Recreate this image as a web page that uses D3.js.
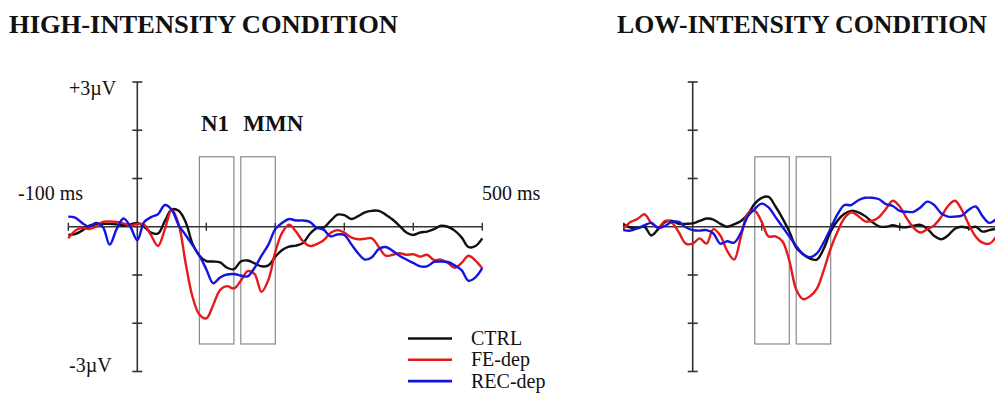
<!DOCTYPE html>
<meta charset="utf-8">
<style>
  body { margin: 0; background: #fff; }
  text { font-family: "Liberation Serif", "Times New Roman", serif; fill: #111; }
</style>
<svg width="995" height="394"></svg>
<script src="https://d3js.org/d3.v7.min.js"></script>
<script>

// time points (ms) of the averaged waveforms
var timesMs = [-100, -90, -80, -70, -60, -50, -40, -30, -20, -10,
    0, 10, 20, 30, 40, 50, 60, 70, 80, 90,
    100, 110, 120, 130, 140, 150, 160, 170, 180, 190,
    200, 210, 220, 230, 240, 250, 260, 270, 280, 290,
    300, 310, 320, 330, 340, 350, 360, 370, 380, 390,
    400, 410, 420, 430, 440, 450, 460, 470, 480, 490, 500];

// amplitudes in microvolts, high-intensity condition
var highCtrl = [-0.17, -0.15, -0.08, 0.02, 0.05, 0.06, 0.06, 0.05, 0.03, 0.05,
    0.08, 0.0, -0.12, -0.14, 0.12, 0.36, 0.33, 0.1, -0.35, -0.6,
    -0.71, -0.72, -0.74, -0.85, -0.88, -0.72, -0.7, -0.76, -0.82, -0.8,
    -0.62, -0.48, -0.41, -0.39, -0.34, -0.15, -0.03, -0.02, 0.12, 0.25,
    0.24, 0.16, 0.22, 0.3, 0.33, 0.33, 0.25, 0.15, 0.02, -0.12,
    -0.17, -0.12, -0.1, -0.05, 0.02, 0.0, -0.08, -0.22, -0.42, -0.4, -0.24];
var highFe = [-0.24, -0.08, -0.02, -0.05, 0.0, 0.1, 0.11, 0.1, 0.07, 0.02,
    0.06, 0.04, -0.18, -0.4, -0.05, 0.36, 0.05, -0.75, -1.45, -1.82,
    -1.9, -1.62, -1.31, -1.23, -1.28, -1.12, -0.92, -0.98, -1.35, -1.1,
    -0.52, -0.12, 0.04, -0.1, -0.3, -0.4, -0.36, -0.28, -0.13, -0.07,
    -0.12, -0.22, -0.26, -0.25, -0.24, -0.42, -0.6, -0.58, -0.55, -0.58,
    -0.57, -0.62, -0.58, -0.69, -0.68, -0.75, -0.85, -0.75, -0.6, -0.7, -0.86];
var highRec = [0.21, 0.19, 0.08, 0.0, 0.08, 0.0, -0.37, -0.05, 0.17, 0.0,
    -0.28, 0.1, 0.2, 0.26, 0.45, 0.35, 0.03, -0.17, -0.38, -0.6,
    -0.88, -1.17, -1.05, -0.99, -0.98, -1.01, -1.03, -0.85, -0.6, -0.37,
    -0.05, 0.08, 0.16, 0.13, 0.13, 0.1, -0.02, -0.06, -0.2, -0.16,
    -0.17, -0.36, -0.55, -0.68, -0.63, -0.46, -0.42, -0.5, -0.6, -0.68,
    -0.75, -0.82, -0.82, -0.73, -0.72, -0.73, -0.8, -0.9, -1.12, -1.05, -0.86];

// low-intensity condition (figure is cut at ~440 ms)
var lowCtrl = [0.05, -0.02, -0.03, 0.0, -0.18, -0.05, 0.1, 0.12, 0.06, 0.06,
    0.07, 0.12, 0.17, 0.15, 0.06, 0.0, 0.05, 0.12, 0.26, 0.48,
    0.6, 0.62, 0.42, 0.18, -0.1, -0.43, -0.57, -0.66, -0.68, -0.45,
    -0.1, 0.13, 0.27, 0.33, 0.3, 0.22, 0.1, 0.01, 0.0, 0.03,
    0.0, -0.01, 0.02, 0.04, -0.04, -0.19, -0.26, -0.18, -0.04, 0.0,
    -0.03, 0.0, -0.1, -0.07, -0.04];
var lowFe = [-0.03, 0.1, 0.16, 0.26, 0.08, -0.02, 0.12, 0.08, -0.12, -0.35,
    -0.35, -0.24, -0.35, -0.05, -0.18, -0.5, -0.68, -0.2, 0.28, 0.33,
    0.1, -0.2, -0.2, -0.3, -0.7, -1.3, -1.5, -1.44, -1.28, -0.9,
    -0.45, -0.1, 0.18, 0.3, 0.22, 0.11, 0.12, 0.2, 0.37, 0.54,
    0.42, 0.18, -0.02, -0.12, -0.05, 0.03, 0.2, 0.43, 0.54, 0.35,
    0.05, -0.2, -0.33, -0.35, -0.2];
var lowRec = [-0.07, -0.08, -0.03, 0.03, 0.08, -0.02, 0.02, 0.1, 0.1, -0.01,
    -0.07, -0.08, -0.07, -0.14, -0.35, -0.3, -0.33, -0.12, 0.22, 0.37,
    0.48, 0.4, 0.2, 0.0, -0.2, -0.4, -0.57, -0.63, -0.55, -0.32,
    -0.03, 0.26, 0.45, 0.45, 0.55, 0.6, 0.6, 0.57, 0.47, 0.43,
    0.33, 0.31, 0.31, 0.4, 0.52, 0.45, 0.28, 0.21, 0.21, 0.23,
    0.35, 0.42, 0.22, 0.08, 0.16];

var groupNames = ["CTRL", "FE-dep", "REC-dep"];
var groupColors = ["#111111", "#e41a1c", "#1414e0"];

// analysis windows (ms) and their vertical extent (µV)
var windowsMs = [[90, 140], [150, 200]];
var windowTop = 1.45, windowBottom = -2.43;

var xTicks = [-100, 100, 200, 300, 400, 500];
var yTicks = [-3, -2, -1, 1, 2, 3];

var svg = d3.select("svg");

var y = d3.scaleLinear().domain([-3, 3]).range([371.5, 82]);

function drawPanel(left, series, title, titleX, titleW, showLabels) {
    var x = d3.scaleLinear().domain([-100, 500]).range([left, left + 414]);
    var g = svg.append("g");

    g.append("text")
        .attr("x", titleX).attr("y", 33)
        .attr("font-size", "26px").attr("font-weight", "bold")
        .attr("textLength", titleW)
        .attr("lengthAdjust", "spacingAndGlyphs")
        .text(title);

    // analysis windows
    g.selectAll("rect.win")
        .data(windowsMs)
        .enter().append("rect")
        .attr("x", function(d) { return x(d[0]); })
        .attr("width", function(d) { return x(d[1]) - x(d[0]); })
        .attr("y", y(windowTop))
        .attr("height", y(windowBottom) - y(windowTop))
        .attr("fill", "none")
        .attr("stroke", "#8a8a8a")
        .attr("stroke-width", 1.2);

    // axes
    g.append("line")
        .attr("x1", x(-100)).attr("x2", x(500))
        .attr("y1", y(0)).attr("y2", y(0))
        .attr("stroke", "#333").attr("stroke-width", 1.6);
    g.append("line")
        .attr("x1", x(0)).attr("x2", x(0))
        .attr("y1", y(3)).attr("y2", y(-3))
        .attr("stroke", "#333").attr("stroke-width", 1.6);
    g.selectAll("line.yt")
        .data(yTicks)
        .enter().append("line")
        .attr("x1", x(0) - 5).attr("x2", x(0) + 5)
        .attr("y1", function(d) { return y(d); })
        .attr("y2", function(d) { return y(d); })
        .attr("stroke", "#333").attr("stroke-width", 1.6);
    g.selectAll("line.xt")
        .data(xTicks)
        .enter().append("line")
        .attr("x1", function(d) { return x(d); })
        .attr("x2", function(d) { return x(d); })
        .attr("y1", y(0) - 4).attr("y2", y(0) + 4)
        .attr("stroke", "#333").attr("stroke-width", 1.4);

    // waveforms
    var line = d3.line()
        .x(function(d, i) { return x(timesMs[i]); })
        .y(function(d) { return y(d); })
        .curve(d3.curveCatmullRom.alpha(0.5));

    g.selectAll("path.wave")
        .data(series)
        .enter().append("path")
        .attr("d", function(d) { return line(d); })
        .attr("fill", "none")
        .attr("stroke", function(d, i) { return groupColors[i]; })
        .attr("stroke-width", 2.4)
        .attr("stroke-linejoin", "round");

    if (showLabels) {
        g.append("text").attr("x", 69).attr("y", 95)
            .attr("font-size", "20px").text("+3\u00b5V");
        g.append("text").attr("x", 69).attr("y", 372)
            .attr("font-size", "20px").text("-3\u00b5V");
        g.append("text").attr("x", 18).attr("y", 200)
            .attr("font-size", "20px").text("-100 ms");
        g.append("text").attr("x", 482).attr("y", 200)
            .attr("font-size", "20px").text("500 ms");
        g.append("text").attr("x", x(90) + 1.5).attr("y", 130.5)
            .attr("font-size", "23px").attr("font-weight", "bold").text("N1");
        g.append("text").attr("x", x(150) + 2.5).attr("y", 130.5)
            .attr("font-size", "23px").attr("font-weight", "bold").text("MMN");
    }
}

drawPanel(68.3, [highCtrl, highFe, highRec], "HIGH-INTENSITY CONDITION", 9, 389, true);
drawPanel(623.7, [lowCtrl, lowFe, lowRec], "LOW-INTENSITY CONDITION", 617, 370, false);

// legend
var legend = svg.append("g").selectAll("g")
    .data(groupNames)
    .enter().append("g")
    .attr("transform", function(d, i) { return "translate(408," + (338.5 + i * 21.3) + ")"; });
legend.append("line")
    .attr("x1", 0).attr("x2", 44)
    .attr("stroke", function(d, i) { return groupColors[i]; })
    .attr("stroke-width", 2.6);
legend.append("text")
    .attr("x", 63).attr("y", 6.5)
    .attr("font-size", "20px")
    .text(function(d) { return d; });

</script>
